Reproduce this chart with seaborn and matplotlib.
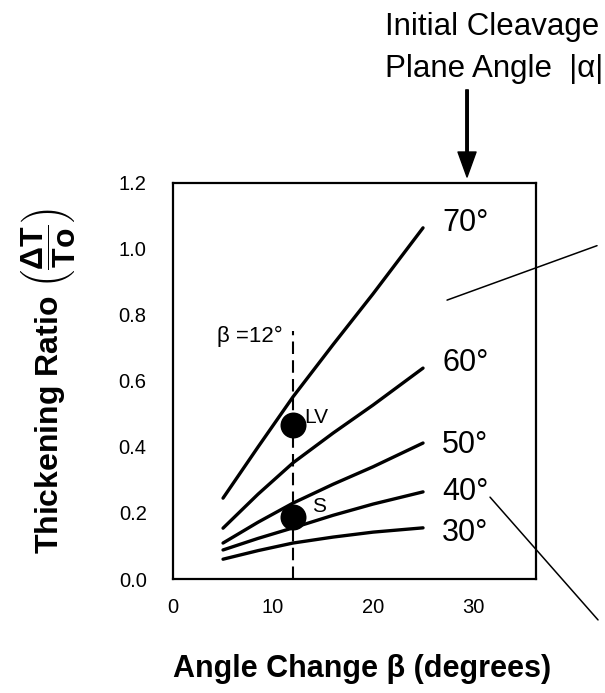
import matplotlib
matplotlib.use("Agg")
import matplotlib.pyplot as plt
import seaborn as sns
import pandas as pd

# ---- data ----
beta = [5, 8.5, 12, 16, 20, 25]
ratio_70 = [0.245, 0.400, 0.552, 0.710, 0.864, 1.064]
ratio_60 = [0.154, 0.257, 0.352, 0.442, 0.527, 0.639]
ratio_50 = [0.109, 0.172, 0.230, 0.287, 0.340, 0.412]
ratio_40 = [0.088, 0.123, 0.155, 0.193, 0.227, 0.264]
ratio_30 = [0.060, 0.086, 0.109, 0.127, 0.142, 0.155]
alpha_labels = ["70°", "60°", "50°", "40°", "30°"]
label_y = [1.079, 0.655, 0.406, 0.264, 0.139]

point_names = ["LV", "S"]
point_beta = [12, 12]
point_ratio = [0.467, 0.188]

beta_marker = 12
xticks = [0, 10, 20, 30]
yticks = [0.0, 0.2, 0.4, 0.6, 0.8, 1.0, 1.2]

series = [ratio_70, ratio_60, ratio_50, ratio_40, ratio_30]
df = pd.DataFrame({
    "beta": beta * len(series),
    "ratio": [v for s in series for v in s],
    "alpha": [a for a in alpha_labels for _ in beta],
})

sns.set_theme(style="white")
plt.rcParams["font.family"] = ["Liberation Sans", "DejaVu Sans"]
plt.rcParams["text.color"] = "black"
plt.rcParams["axes.labelcolor"] = "black"
plt.rcParams["mathtext.fontset"] = "custom"
plt.rcParams["mathtext.rm"] = "Liberation Sans:bold"
plt.rcParams["mathtext.bf"] = "Liberation Sans:bold"
plt.rcParams["mathtext.it"] = "Liberation Sans:bold"

fig = plt.figure(figsize=(6.05, 6.93), dpi=100)
ax = fig.add_axes([0.286, 0.1645, 0.6, 0.5715])

sns.lineplot(data=df, x="beta", y="ratio", units="alpha", estimator=None,
             color="black", lw=2.4, ax=ax, legend=False)

# dashed beta = 12 line
ax.plot([beta_marker, beta_marker], [0, 0.75], color="black", lw=1.5,
        dashes=(6, 3))
ax.text(11.0, 0.735, "β =12°", ha="right", va="center", fontsize=16)

sns.scatterplot(x=point_beta, y=point_ratio, s=300, color="black",
                edgecolor="black", ax=ax, zorder=5, legend=False)
ax.text(13.1, 0.49, point_names[0], fontsize=15, va="center", ha="left")
ax.text(13.9, 0.22, point_names[1], fontsize=15, va="center", ha="left")

for lab, yy in zip(alpha_labels, label_y):
    ax.text(26.9, yy, lab, fontsize=22, va="center", ha="left")

# thin pointer lines
ax.plot([27.4, 42.4], [0.845, 1.01], color="black", lw=1.1, clip_on=False)
ax.plot([31.7, 42.5], [0.248, -0.124], color="black", lw=1.1, clip_on=False)

# arrow and header
ax.annotate("", xy=(29.4, 1.218), xytext=(29.4, 1.482),
            xycoords="data", textcoords="data", annotation_clip=False,
            arrowprops=dict(facecolor="black", edgecolor="black", width=1.8,
                            headwidth=13, headlength=18))
fig.text(385 / 605, 1 - 35 / 693, "Initial Cleavage", fontsize=22.5,
         ha="left", va="baseline")
fig.text(385 / 605, 1 - 77 / 693, "Plane Angle  |α|", fontsize=22.5,
         ha="left", va="baseline")

ax.set_xlim(0, 36.3)
ax.set_ylim(0, 1.2)
ax.set_xticks(xticks)
ax.set_xticklabels([str(t) for t in xticks])
ax.set_yticks(yticks)
ax.set_yticklabels([f"{t:.1f}" for t in yticks])
ax.tick_params(axis="both", direction="out", length=7, width=1.5,
               labelsize=14.5, color="black", labelcolor="black")
ax.tick_params(axis="y", pad=12)
ax.tick_params(axis="x", pad=7)
for sp in ax.spines.values():
    sp.set_visible(True)
    sp.set_color("black")
    sp.set_linewidth(1.6)

ax.set_xlabel("Angle Change β (degrees)", fontsize=22, fontweight="bold",
              labelpad=26)
ax.xaxis.label.set_x(0.52)
ax.set_ylabel(r"Thickening Ratio $\left(\dfrac{\Delta T}{To}\right)$",
              fontsize=23, fontweight="bold", labelpad=29)

fig.savefig("out.png", dpi=100)
